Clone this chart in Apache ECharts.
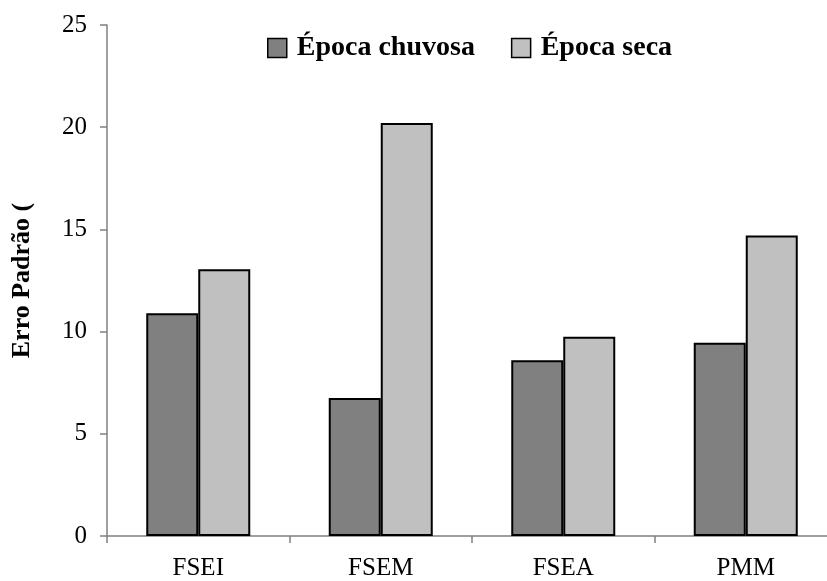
<!DOCTYPE html>
<html><head><meta charset="utf-8">
<script src="https://cdn.jsdelivr.net/npm/echarts@6/dist/echarts.min.js"></script>
<style>html,body{margin:0;padding:0;background:#fff}#c{width:827px;height:581px}</style>
</head><body><div id="c"></div>
<script>
const categories = ['FSEI', 'FSEM', 'FSEA', 'PMM'];
const chuvosa = [10.9, 6.75, 8.6, 9.45];
const seca = [13.05, 20.2, 9.75, 14.7];
const yTicks = [0, 5, 10, 15, 20, 25];
const seriesNames = ['Época chuvosa', 'Época seca'];
const yTitle = 'Erro Padrão (';

const font = 'Liberation Serif, Times New Roman, serif';
const chart = echarts.init(document.getElementById('c'), null, {renderer: 'canvas'});
chart.setOption({
  animation: false,
  backgroundColor: '#fff',
  grid: {left: 107, top: 25, right: -10, bottom: 45, containLabel: false, outerBoundsMode: 'none'},
  legend: {
    data: seriesNames,
    left: 262, top: 29,
    itemWidth: 19, itemHeight: 19, itemGap: 36,
    icon: 'rect',
    itemStyle: {borderColor: '#000', borderWidth: 1.5},
    textStyle: {fontFamily: font, fontWeight: 'bold', fontSize: 28, color: '#000', padding: [0, 0, 0, 5]}
  },
  xAxis: {
    type: 'category', data: categories,
    axisLine: {lineStyle: {color: '#808080', width: 1.5}},
    axisTick: {show: true, length: 7, lineStyle: {color: '#808080', width: 1.5}},
    axisLabel: {fontFamily: font, fontSize: 25, color: '#000', margin: 20}
  },
  yAxis: {
    type: 'value', min: yTicks[0], max: yTicks[yTicks.length - 1], interval: 5,
    name: yTitle, nameLocation: 'middle', nameGap: 72,
    nameTextStyle: {fontFamily: font, fontWeight: 'bold', fontSize: 26, color: '#000'},
    axisLine: {show: true, lineStyle: {color: '#808080', width: 1.5}},
    axisTick: {show: true, length: 7, lineStyle: {color: '#808080', width: 1.5}},
    splitLine: {show: false},
    axisLabel: {fontFamily: font, fontSize: 25, color: '#000', margin: 20}
  },
  series: [
    {name: seriesNames[0], type: 'bar', data: chuvosa, barWidth: 52, barGap: '0%',
     itemStyle: {color: '#808080', borderColor: '#000', borderWidth: 2}},
    {name: seriesNames[1], type: 'bar', data: seca, barWidth: 52, barGap: '0%',
     itemStyle: {color: '#C0C0C0', borderColor: '#000', borderWidth: 2}}
  ]
});
</script></body></html>
